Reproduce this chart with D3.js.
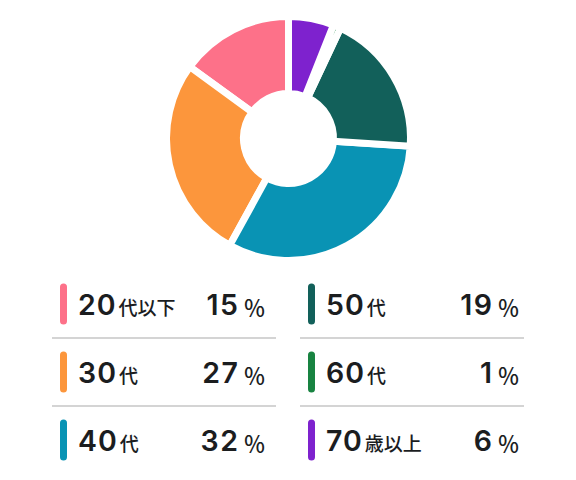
<!DOCTYPE html>
<html><head><meta charset="utf-8">
<script src="https://cdn.jsdelivr.net/npm/d3@7"></script>
<style>body{margin:0;background:#fff}</style>
</head><body>
<svg id="c" width="576" height="480"></svg>
<script>
const categories = ["20", "30", "40", "50", "60", "70"];
const suffixes = ["代以下", "代", "代", "代", "代", "歳以上"];
const values = [15, 27, 32, 19, 1, 6];
const colors = ["#FD7189", "#FC963C", "#0993B4", "#12605A", "#188341", "#7E22CE"];

const svg = d3.select("#c");
const data = categories.map((c, i) => ({c, s: suffixes[i], v: values[i], col: colors[i]}));

const pie = d3.pie().sort(null).value(d => d.v).startAngle(0).endAngle(-2 * Math.PI);
const arc = d3.arc().innerRadius(45).outerRadius(122);
const g = svg.append("g").attr("transform", "translate(288.5,138.5)");
g.selectAll("path").data(pie(data)).join("path")
  .attr("d", arc).attr("fill", d => d.data.col)
  .attr("stroke", "#fff").attr("stroke-width", 7).attr("stroke-linejoin", "miter");

const font = "'Inter','Noto Sans CJK JP',sans-serif";
const cjk = "'Noto Sans CJK JP',sans-serif";
const cols = [{x0: 52, x1: 276, bar: 60, label: 78, num: 239.5}, {x0: 300, x1: 524, bar: 308, label: 326, num: 493.5}];
const rowY = d3.scaleLinear().domain([0, 1]).range([304, 372]);

data.forEach((d, i) => {
  const col = cols[Math.floor(i / 3)];
  const r = i % 3;
  const cy = rowY(r);
  svg.append("rect").attr("x", col.bar).attr("y", cy - 20.5).attr("width", 7).attr("height", 41)
    .attr("rx", 3.5).attr("fill", d.col);
  const t = svg.append("text").attr("x", col.label).attr("y", cy + 11).attr("fill", "#1b1d1f")
    .attr("font-family", font);
  t.append("tspan").text(d.c).attr("font-size", 28.5).attr("font-weight", 600).attr("letter-spacing", 1);
  t.append("tspan").text(d.s).attr("font-size", 19).attr("font-weight", 500)
    .attr("font-family", cjk).attr("dx", 2);
  svg.append("text").attr("x", col.num).attr("y", cy + 11).attr("text-anchor", "end")
    .attr("fill", "#1b1d1f").attr("font-family", font).attr("font-size", 28.5).attr("font-weight", 600)
    .attr("letter-spacing", 1.5).text(d.v);
  svg.append("text").attr("x", col.num + 4).attr("y", cy + 12).attr("fill", "#1b1d1f")
    .attr("font-family", cjk).attr("font-size", 22).attr("font-weight", 500).text("％");
  if (r < 2) {
    svg.append("line").attr("x1", col.x0).attr("x2", col.x1)
      .attr("y1", (rowY(r) + rowY(r + 1)) / 2).attr("y2", (rowY(r) + rowY(r + 1)) / 2)
      .attr("stroke", "#d4d4d4").attr("stroke-width", 2);
  }
});
</script>
</body></html>
